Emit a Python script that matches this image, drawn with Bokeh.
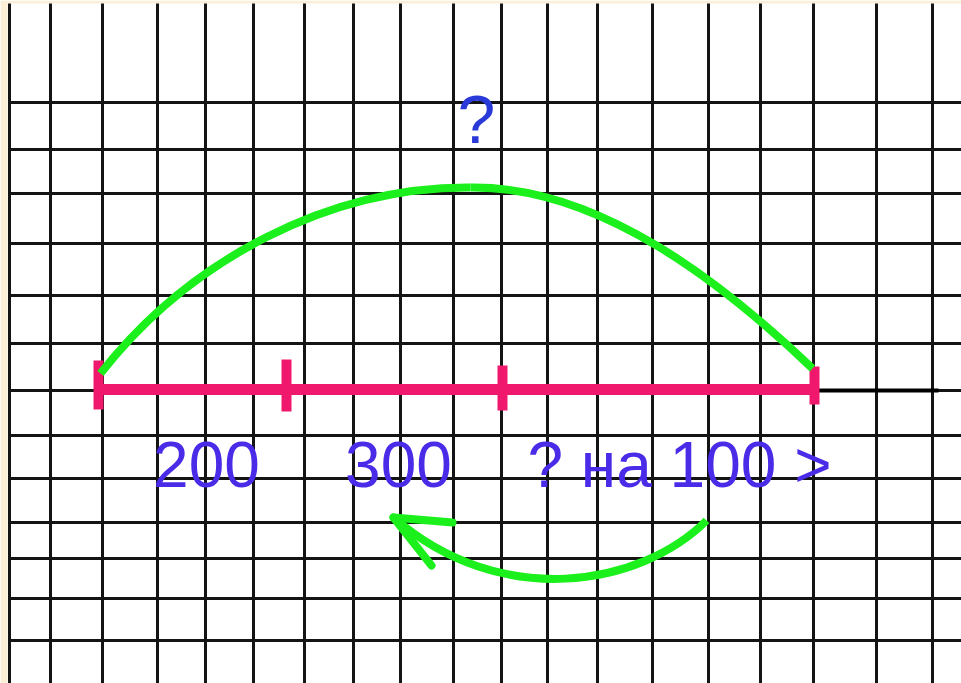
from bokeh.plotting import figure
from bokeh.models import Range1d
from bokeh.core.properties import value
from bokeh.embed import file_html
from bokeh.resources import INLINE

# ---- data (reference pixel coordinates) ----
grid_x = [9, 50, 102, 157, 205, 253, 304, 353, 400, 453, 501, 547, 597, 652, 708, 760, 813, 876, 932]
grid_y = [102, 149, 193, 243, 295, 343, 390, 435, 478, 522, 558, 598, 640]

frame_left = [0, 7]
frame_top = [0, 3]

seg_y = [389]
seg_start = [97]
seg_end = [815]
tick_x = [98, 286, 502, 814]
tick_top = [360, 359, 365, 366]
tick_bot = [409, 411, 410, 404]

ext_x0 = [815]
ext_x1 = [938]
ext_y = [390]

labels = ["200", "300", "? на 100 >"]
label_x = [206, 398, 679]
label_y = [464, 464, 464]

top_label = ["?"]
top_x = [476]
top_y = [118]

# big arc (two cubic pieces)
arc_x0 = [100, 470]
arc_y0 = [373, 187]
arc_cx0 = [190, 600]
arc_cy0 = [258, 185]
arc_cx1 = [330, 725]
arc_cy1 = [186, 285]
arc_x1 = [470, 812]
arc_y1 = [187, 368]

# lower arrow curve
low_x0 = [706]
low_y0 = [520]
low_cx0 = [640]
low_cy0 = [586]
low_cx1 = [500]
low_cy1 = [610]
low_x1 = [393]
low_y1 = [517]

head_x0 = [393, 393]
head_y0 = [517, 517]
head_x1 = [452, 431]
head_y1 = [522, 565]

p = figure(width=961, height=683, output_backend="svg", toolbar_location=None,
           x_range=Range1d(0, 961), y_range=Range1d(683, 0), min_border=0)
p.axis.visible = False
p.grid.visible = False
p.outline_line_color = None
p.background_fill_color = "white"
p.border_fill_color = "white"

# beige frame strips
p.quad(left=[frame_left[0]], right=[frame_left[1]], top=[0], bottom=[683],
       fill_color="#FCEFD8", line_color=None)
p.quad(left=[0], right=[961], top=[frame_top[0]], bottom=[frame_top[1]],
       fill_color="#FCEFD8", line_color=None)

# grid
p.segment(x0=grid_x, y0=[3] * len(grid_x), x1=grid_x, y1=[690] * len(grid_x),
          line_color="#141414", line_width=3)
p.segment(x0=[8] * len(grid_y), y0=grid_y, x1=[970] * len(grid_y), y1=grid_y,
          line_color="#141414", line_width=3)

# black extension
p.segment(x0=ext_x0, y0=ext_y, x1=ext_x1, y1=ext_y, line_color="black", line_width=4)

# pink segment
p.segment(x0=seg_start, y0=seg_y, x1=seg_end, y1=seg_y, line_color="#F0186C", line_width=11)
p.segment(x0=tick_x, y0=tick_top, x1=tick_x, y1=tick_bot, line_color="#F0186C", line_width=10)

# green arcs
p.bezier(x0=arc_x0, y0=arc_y0, x1=arc_x1, y1=arc_y1, cx0=arc_cx0, cy0=arc_cy0,
         cx1=arc_cx1, cy1=arc_cy1, line_color="#1CF01C", line_width=8)
p.bezier(x0=low_x0, y0=low_y0, x1=low_x1, y1=low_y1, cx0=low_cx0, cy0=low_cy0,
         cx1=low_cx1, cy1=low_cy1, line_color="#1CF01C", line_width=8)
p.segment(x0=head_x0, y0=head_y0, x1=head_x1, y1=head_y1, line_color="#1CF01C",
          line_width=8, line_cap="round")

# texts
p.text(x=label_x, y=label_y, text=labels, text_font=value("Liberation Sans"),
       text_font_size="64px", text_color="#4A2BE8", text_align="center",
       text_baseline="alphabetic")
p.text(x=top_x, y=top_y, text=top_label, text_font=value("Liberation Sans"),
       text_font_size="68px", text_color="#2A3AD8", text_align="center",
       text_baseline="alphabetic")

open("out.html", "w").write(file_html(p, INLINE))
